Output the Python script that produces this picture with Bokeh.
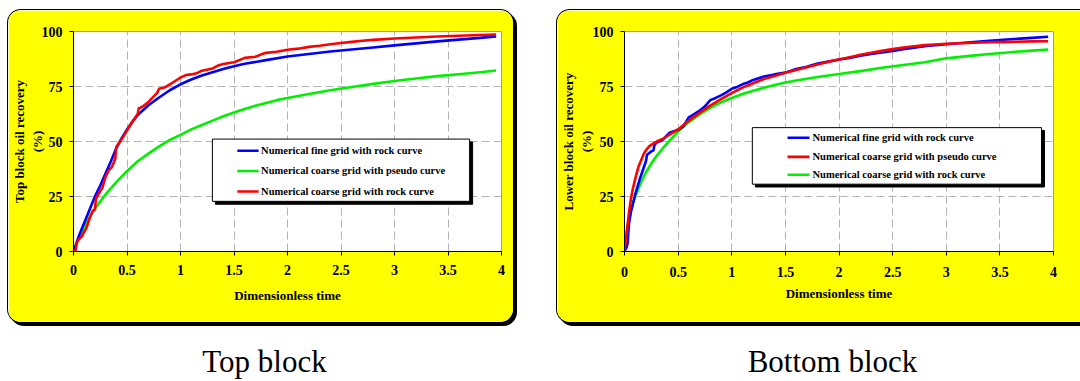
from bokeh.plotting import figure
from bokeh.layouts import row, column
from bokeh.models import Range1d, FixedTicker, NumeralTickFormatter
from bokeh.core.properties import value
from bokeh.embed import file_html
from bokeh.resources import INLINE

# ---------------- data: top block ----------------
top_fine_t = [0, 0.05, 0.1, 0.15, 0.2, 0.25, 0.3, 0.35, 0.4, 0.45, 0.5, 0.55, 0.6, 0.7, 0.8,
              0.9, 1.0, 1.1, 1.2, 1.3, 1.4, 1.5, 1.6, 1.8, 2.0, 2.2, 2.4, 2.6, 2.8, 3.0,
              3.2, 3.4, 3.6, 3.8, 3.95]
top_fine_r = [0, 7, 13, 19, 25, 30, 35.5, 41, 47, 51.5, 55.5, 59, 62, 66.5, 70,
              73.3, 76, 78.2, 80, 81.5, 83, 84.2, 85.3, 87, 88.6, 89.8, 90.9, 91.8, 92.7, 93.7,
              94.6, 95.5, 96.3, 97.1, 97.8]

top_pseudo_t = [0, 0.05, 0.1, 0.15, 0.2, 0.3, 0.4, 0.5, 0.6, 0.7, 0.8, 0.9, 1.0, 1.1, 1.2,
                1.3, 1.4, 1.5, 1.6, 1.7, 1.8, 1.9, 2.0, 2.2, 2.4, 2.6, 2.8, 3.0, 3.2, 3.4,
                3.6, 3.8, 3.95]
top_pseudo_r = [0, 6, 11, 15.5, 19.5, 26, 31.5, 36.5, 41, 44.5, 47.8, 50.7, 53, 55.5, 57.5,
                59.5, 61.5, 63.2, 64.8, 66.2, 67.5, 68.8, 69.8, 71.6, 73.3, 74.8, 76.2, 77.5, 78.6, 79.7,
                80.6, 81.5, 82.3]

top_coarse_t = [0, 0.02, 0.03, 0.05, 0.08, 0.1, 0.12, 0.15, 0.18, 0.2, 0.21, 0.25, 0.27, 0.3,
                0.33, 0.36, 0.39, 0.4, 0.45, 0.5, 0.55, 0.6, 0.61, 0.65, 0.7, 0.75, 0.78, 0.8,
                0.85, 0.9, 0.95, 1.0, 1.05, 1.1, 1.15, 1.2, 1.3, 1.35, 1.4, 1.5, 1.55, 1.6,
                1.7, 1.75, 1.8, 1.9, 2.0, 2.1, 2.2, 2.3, 2.4, 2.5, 2.6, 2.7, 2.8, 3.0, 3.2,
                3.4, 3.6, 3.8, 3.95]
top_coarse_r = [0, 0.5, 4, 5.5, 7, 9, 10.5, 15, 18.5, 19, 24, 27.5, 29, 34,
                37, 38.5, 42, 47.5, 51, 55, 59, 62.5, 65, 66, 68, 70.5, 72, 74,
                74.5, 76, 77.5, 79, 80.2, 80.5, 81, 82.2, 83.2, 84.5, 85.2, 86, 87, 88,
                88.5, 89.5, 90.3, 90.8, 91.7, 92.2, 93, 93.5, 94.2, 94.8, 95.3, 95.8, 96.2, 96.8, 97.3,
                97.7, 98.1, 98.4, 98.6]

# ---------------- data: bottom block ----------------
bot_fine_t = [0, 0.02, 0.03, 0.04, 0.06, 0.1, 0.15, 0.2, 0.21, 0.25, 0.27, 0.28, 0.3, 0.35,
              0.4, 0.42, 0.5, 0.55, 0.6, 0.65, 0.7, 0.75, 0.8, 0.85, 0.9, 0.95, 1.0, 1.05,
              1.1, 1.15, 1.2, 1.3, 1.4, 1.5, 1.6, 1.7, 1.8, 1.9, 2.0, 2.1, 2.2, 2.3, 2.4,
              2.5, 2.6, 2.7, 2.8, 2.9, 3.0, 3.2, 3.4, 3.6, 3.8, 3.95]
bot_fine_r = [0, 2, 4, 12, 18, 26, 34, 41, 44, 45.5, 46, 48.5, 49.5, 50.5,
              53, 54, 55.3, 57, 61, 62.5, 64, 66, 68.8, 69.8, 71, 72.3, 74, 74.8,
              76, 76.8, 78, 79.5, 80.5, 81.3, 83, 84, 85.4, 86.3, 87.3, 88, 89, 89.8, 90.5,
              91.2, 92, 92.6, 93.3, 93.8, 94.2, 95, 95.8, 96.5, 97.1, 97.6]

bot_pseudo_t = [0, 0.02, 0.04, 0.06, 0.08, 0.1, 0.13, 0.16, 0.18, 0.2, 0.23, 0.26, 0.3, 0.35,
                0.4, 0.45, 0.5, 0.6, 0.7, 0.8, 0.9, 1.0, 1.1, 1.2, 1.3, 1.4, 1.5, 1.6, 1.7,
                1.8, 1.9, 2.0, 2.1, 2.2, 2.3, 2.4, 2.5, 2.6, 2.7, 2.8, 2.9, 3.0, 3.2, 3.4,
                3.6, 3.8, 3.95]
bot_pseudo_r = [0, 8, 17, 24, 29, 33, 38.5, 42, 44.5, 46, 47.8, 48.8, 50, 51,
                52.5, 54, 55.5, 59.5, 63, 66.3, 69.3, 72, 74.5, 76.5, 78.4, 79.8, 81.2, 82.5, 83.8,
                85, 86.2, 87.3, 88.3, 89.4, 90.3, 91.2, 92, 92.7, 93.3, 93.8, 94.1, 94.4, 94.8, 95.1,
                95.3, 95.5, 95.6]

bot_coarse_t = [0, 0.01, 0.02, 0.04, 0.06, 0.08, 0.1, 0.15, 0.2, 0.25, 0.3, 0.35, 0.4, 0.45,
                0.5, 0.6, 0.7, 0.8, 0.9, 1.0, 1.1, 1.2, 1.3, 1.4, 1.5, 1.6, 1.7, 1.8, 1.9,
                2.0, 2.2, 2.4, 2.6, 2.8, 3.0, 3.2, 3.4, 3.6, 3.8, 3.95]
bot_coarse_r = [0, 5, 9, 14.5, 18.5, 22, 25, 31, 36, 40, 43.5, 46.5, 49.3, 52,
                54.5, 58.8, 62.3, 65.3, 67.8, 69.8, 71.6, 73.1, 74.4, 75.7, 76.8, 77.7, 78.5, 79.3, 80.0,
                80.7, 82, 83.5, 84.8, 86, 87.8, 88.8, 89.8, 90.6, 91.3, 91.8]

# ---------------- axes / labels ----------------
x_ticks = [0, 0.5, 1, 1.5, 2, 2.5, 3, 3.5, 4]
y_ticks = [0, 25, 50, 75, 100]
x_title = "Dimensionless time"
top_y_title = "Top block oil recovery\n(%)"
bot_y_title = "Lower block oil recovery\n(%)"
top_legend_labels = ["Numerical fine grid with rock curve",
                     "Numerical coarse grid with pseudo curve",
                     "Numerical coarse grid with rock curve"]
bot_legend_labels = ["Numerical fine grid with rock curve",
                     "Numerical coarse grid with pseudo curve",
                     "Numerical coarse grid with rock curve"]
panel_titles = ["Top block", "Bottom block"]

BLUE, RED, GREEN = "#0000FF", "#FF0000", "#00F000"
YELLOW = "#FFFF00"
SERIF = "Liberation Serif"


def make_chart(width, height, borders, y_title, series, legend, radius):
    left, right, top, bottom = borders
    p = figure(width=width, height=height, title=None,
               x_range=Range1d(0, 4), y_range=Range1d(0, 100),
               output_backend="svg", toolbar_location=None,
               min_border_left=left, min_border_right=right,
               min_border_top=top, min_border_bottom=bottom,
               border_fill_color=YELLOW, background_fill_color="white",
               outline_line_color="#9a9a9a", outline_line_width=1)

    p.xaxis.ticker = FixedTicker(ticks=x_ticks)
    p.yaxis.ticker = FixedTicker(ticks=y_ticks)
    p.xaxis.formatter = NumeralTickFormatter(format="0.[0]")
    p.xaxis.axis_label = x_title
    p.yaxis.axis_label = y_title
    for ax in (p.xaxis, p.yaxis):
        ax.axis_line_color = "black"
        ax.axis_line_width = 1
        ax.major_tick_line_color = "black"
        ax.major_tick_in = 0
        ax.major_tick_out = 4
        ax.minor_tick_line_color = None
        ax.major_label_text_font = SERIF
        ax.major_label_text_font_style = "bold"
        ax.major_label_text_font_size = "14px"
        ax.major_label_text_color = "black"
        ax.axis_label_text_font = SERIF
        ax.axis_label_text_font_style = "bold"
        ax.axis_label_text_font_size = "13px"
        ax.axis_label_text_color = "black"
    p.xaxis.major_label_standoff = 9
    p.xaxis.axis_label_standoff = 10
    p.yaxis.major_label_standoff = 7
    p.yaxis.axis_label_standoff = -6

    p.xgrid.ticker = FixedTicker(ticks=x_ticks)
    p.ygrid.ticker = FixedTicker(ticks=y_ticks)
    for g in (p.xgrid, p.ygrid):
        g.grid_line_color = "#b4b4b4"
        g.grid_line_dash = "8 4"
        g.grid_line_width = 1

    for t, r, c in series:
        p.line(t, r, line_color=c, line_width=2.6, line_join="round")

    # legend panel with drop shadow
    (bx0, bx1, by0, by1), (sdx, sdy), (lx0, lx1, tx), rows, labels, colors = legend
    p.quad(left=[bx0 + sdx], right=[bx1 + sdx], top=[by1 - sdy], bottom=[by0 - sdy],
           fill_color="black", line_color="black")
    p.quad(left=[bx0], right=[bx1], top=[by1], bottom=[by0],
           fill_color="white", line_color="black", line_width=1)
    p.segment(x0=[lx0] * 3, x1=[lx1] * 3, y0=rows, y1=rows,
              line_color=colors, line_width=2.6)
    p.text(x=[tx] * 3, y=rows, text=labels, text_font=value(SERIF),
           text_font_style="bold", text_font_size="10.5px",
           text_baseline="middle", text_align="left", text_color="black")

    p.styles = {"border-radius": radius, "overflow": "hidden",
                "box-shadow": "0 0 0 1px #000, 3px 3px 0 1px #000"}
    return p


p1 = make_chart(
    505, 312, (63, 12, 14, 71), top_y_title,
    [(top_pseudo_t, top_pseudo_r, GREEN),
     (top_fine_t, top_fine_r, BLUE),
     (top_coarse_t, top_coarse_r, RED)],
    ((1.298, 3.702, 22.8, 51.1), (0.028, 1.32), (1.531, 1.730, 1.753),
     [45.8, 36.6, 27.3], top_legend_labels, [BLUE, GREEN, RED]),
    "13px")
p1.margin = (10, 0, 4, 8)

p2 = make_chart(
    523, 312, (67, 27, 21, 57), bot_y_title,
    [(bot_coarse_t, bot_coarse_r, GREEN),
     (bot_fine_t, bot_fine_r, BLUE),
     (bot_pseudo_t, bot_pseudo_r, RED)],
    ((1.192, 3.888, 30.6, 56.3), (0.028, 1.28), (1.520, 1.725, 1.753),
     [51.7, 43.0, 34.9], bot_legend_labels, [BLUE, RED, GREEN]),
    "13px 0 0 13px")
p2.margin = (10, 0, 4, 44)
p2.xaxis.major_label_standoff = 11
p2.xaxis.axis_label_standoff = 6
p2.yaxis.axis_label_standoff = -4

# captions under the two panels
p3 = figure(width=1080, height=55, x_range=Range1d(0, 1080), y_range=Range1d(0, 55),
            output_backend="svg", toolbar_location=None, min_border=0,
            x_axis_location=None, y_axis_location=None, title=None,
            outline_line_color=None, border_fill_color="white",
            background_fill_color="white")
p3.grid.visible = False
p3.text(x=[264, 832], y=[20, 20], text=panel_titles, text_font=value(SERIF),
        text_font_size="31px", text_align="center", text_baseline="alphabetic",
        text_color="black")

layout = column(row(p1, p2), p3)
open("out.html", "w").write(file_html(layout, INLINE))
